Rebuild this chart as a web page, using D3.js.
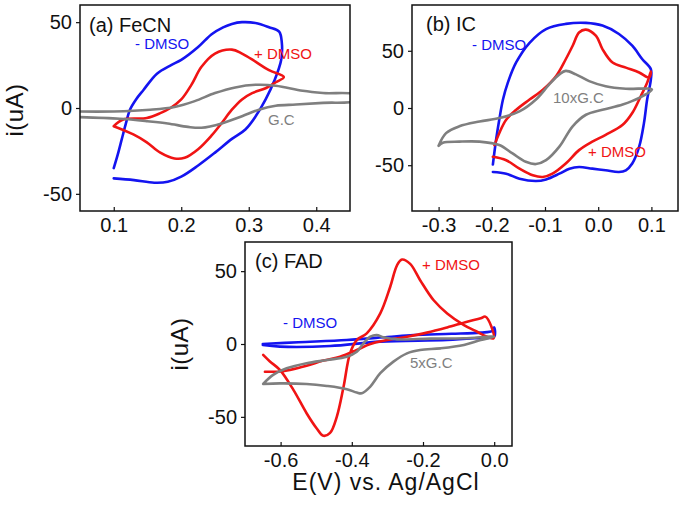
<!DOCTYPE html>
<html>
<head>
<meta charset="utf-8">
<script src="https://cdn.jsdelivr.net/npm/d3@7"></script>
<style>
  html, body { margin: 0; padding: 0; background: #fff; }
  svg { display: block; font-family: "Liberation Sans", Arial, sans-serif; }
  .tick text { font-size: 20px; fill: #111; }
  .tick line { stroke: #111; stroke-width: 1.2; }
  .frame { fill: none; stroke: #111; stroke-width: 1.5; }
  .cv { fill: none; stroke-width: 2.6; stroke-linejoin: round; stroke-linecap: round; }
</style>
</head>
<body>
<svg id="chart" width="685" height="512"></svg>
<script>
/* CV curves: [E (V), i (uA)] */

// (a) FeCN
const fecnMinusDmso = [[0.1,-35],[0.106,-27],[0.112,-18],[0.118,-9],[0.124,-1],[0.133,5],[0.144,10.5],[0.164,20],[0.185,25],[0.2,28],[0.225,35.5],[0.245,43],[0.262,47],[0.275,49],[0.29,50],[0.31,49.5],[0.33,47],[0.345,44.5],[0.349,38],[0.348,28],[0.338,16],[0.325,5],[0.31,-5],[0.295,-12.5],[0.275,-18],[0.25,-26],[0.225,-33.5],[0.2,-40],[0.18,-43],[0.16,-43.5],[0.13,-42],[0.1,-41]];
const fecnPlusDmso = [[0.1,-10.6],[0.114,-6.7],[0.149,-5.8],[0.169,-3],[0.184,0],[0.2,5],[0.215,13.5],[0.23,24],[0.25,31.7],[0.275,34],[0.29,31.7],[0.31,27],[0.33,22],[0.352,18],[0.34,15],[0.325,11.5],[0.305,8.7],[0.29,5],[0.275,-1],[0.26,-8.7],[0.245,-16],[0.225,-24],[0.205,-29],[0.19,-29.4],[0.169,-26],[0.149,-20],[0.129,-15.4],[0.1,-10.6]];
const fecnGC = [[0.04,-2],[0.1,-2],[0.154,-1],[0.19,0.6],[0.22,4],[0.25,8.7],[0.28,12],[0.31,13.5],[0.34,13],[0.38,10],[0.41,8.7],[0.46,7.6],[0.46,4.4],[0.41,3],[0.37,2],[0.34,1.3],[0.315,-1],[0.29,-4.8],[0.26,-9],[0.23,-11.5],[0.21,-11],[0.18,-9],[0.15,-7.7],[0.109,-6.3],[0.04,-5.2]];

// (b) IC
const icMinusDmso = [[-0.198,-49.4],[-0.192,-28],[-0.186,-10.3],[-0.179,7.4],[-0.17,22],[-0.154,40],[-0.129,57],[-0.098,69],[-0.061,73.5],[-0.023,74.4],[0.008,72],[0.039,64.7],[0.064,54.4],[0.083,42.6],[0.099,33.8],[0.099,25],[0.092,7.4],[0.086,-13.2],[0.077,-33.8],[0.064,-48.5],[0.052,-54.4],[0.039,-55.9],[0.014,-54.4],[-0.011,-53],[-0.036,-51.5],[-0.054,-53],[-0.073,-57.4],[-0.098,-62.4],[-0.117,-63.8],[-0.148,-61.8],[-0.173,-57.4],[-0.198,-55.9]];
const icPlusDmso = [[-0.198,-42.6],[-0.173,-45.6],[-0.148,-53],[-0.123,-58.8],[-0.104,-60.3],[-0.086,-57.4],[-0.061,-48.5],[-0.036,-36.8],[-0.011,-29.4],[0.014,-23.5],[0.046,-14.7],[0.064,-4.4],[0.08,10.3],[0.092,22],[0.099,32],[0.096,26.5],[0.077,31],[0.052,35.3],[0.027,39.7],[0.008,51.5],[-0.004,63],[-0.023,68.5],[-0.036,66],[-0.048,54.4],[-0.061,42.6],[-0.079,28],[-0.104,16],[-0.129,7.4],[-0.154,-1.5],[-0.173,-10.3],[-0.186,-22],[-0.195,-32.4]];
const icGC10x = [[-0.3,-33],[-0.286,-22],[-0.261,-16],[-0.223,-11.8],[-0.186,-8.8],[-0.148,-3],[-0.117,7.4],[-0.092,20.6],[-0.073,29.4],[-0.061,32.4],[-0.042,29.4],[-0.017,23.5],[0.014,19],[0.052,16.8],[0.101,16.2],[0.077,8.8],[0.046,3],[0.008,-1.5],[-0.023,-5.9],[-0.048,-16],[-0.073,-33.8],[-0.098,-45.6],[-0.117,-49],[-0.136,-47],[-0.161,-39.7],[-0.186,-32.4],[-0.223,-29.4],[-0.261,-29.4],[-0.292,-30.3],[-0.3,-33]];

// (c) FAD
const fadMinusDmso = [[-0.65,0],[-0.55,1.2],[-0.414,2.7],[-0.3,4.8],[-0.226,6.2],[-0.12,7],[-0.038,7.8],[-0.005,9],[0,11.4],[0,5],[-0.04,4.2],[-0.132,2.7],[-0.32,1.6],[-0.461,-1.4],[-0.602,-1.8],[-0.65,-0.7]];
const fadPlusDmso = [[-0.649,-7.5],[-0.63,-12],[-0.602,-17.8],[-0.564,-31.5],[-0.527,-47.5],[-0.499,-57.8],[-0.48,-63],[-0.461,-61],[-0.442,-49.8],[-0.423,-29.2],[-0.405,-6.4],[-0.386,2.7],[-0.358,7.3],[-0.32,21],[-0.292,39.3],[-0.273,54],[-0.259,58],[-0.236,55],[-0.208,43.8],[-0.17,30],[-0.132,21],[-0.085,13],[-0.048,8.4],[-0.02,5],[-0.002,3.9],[-0.008,12],[-0.025,18.8],[-0.038,17.6],[-0.076,15.3],[-0.132,11.4],[-0.189,7.8],[-0.245,5],[-0.301,2.7],[-0.348,0],[-0.386,-4.1],[-0.433,-8.7],[-0.48,-11.4],[-0.527,-15],[-0.574,-17.8],[-0.611,-19],[-0.644,-19]];
const fadGC5x = [[-0.649,-27.4],[-0.621,-21.2],[-0.583,-16.7],[-0.527,-13.2],[-0.47,-11],[-0.414,-8.7],[-0.386,-5.3],[-0.367,0.5],[-0.348,5],[-0.33,6.2],[-0.311,4.6],[-0.273,3.2],[-0.179,3.7],[-0.085,3.9],[0,5],[-0.038,2.7],[-0.085,-0.7],[-0.151,-3],[-0.208,-4.1],[-0.245,-6.4],[-0.283,-12.1],[-0.32,-20],[-0.348,-29.2],[-0.372,-33.8],[-0.386,-33.3],[-0.414,-31],[-0.47,-28.8],[-0.527,-27.4],[-0.602,-27],[-0.649,-27.4]];

const fecnXTicks = [0.1, 0.2, 0.3, 0.4];
const icXTicks = [-0.3, -0.2, -0.1, 0.0, 0.1];
const fadXTicks = [-0.6, -0.4, -0.2, 0.0];
const yTicks = [-50, 0, 50];

const BLUE = "#1414f0", RED = "#f01414", GRAY = "#7f7f7f";

const svg = d3.select("#chart");

const panels = [
  { id: "a", box: [80, 5, 350, 211], xDom: [0.05, 0.45], yDom: [-60, 60], xTicks: fecnXTicks,
    curves: [[fecnMinusDmso, BLUE], [fecnPlusDmso, RED], [fecnGC, GRAY]],
    labels: [
      { t: "(a) FeCN", x: 89, y: 32, c: "#111", s: 20 },
      { t: "- DMSO", x: 135, y: 49, c: BLUE, s: 15 },
      { t: "+ DMSO", x: 254, y: 59, c: RED, s: 15 },
      { t: "G.C", x: 268, y: 125, c: GRAY, s: 15 }
    ] },
  { id: "b", box: [412, 5, 678, 211], xDom: [-0.35, 0.15], yDom: [-90, 90], xTicks: icXTicks,
    curves: [[icMinusDmso, BLUE], [icPlusDmso, RED], [icGC10x, GRAY]],
    labels: [
      { t: "(b) IC", x: 426, y: 31, c: "#111", s: 20 },
      { t: "- DMSO", x: 472, y: 50, c: BLUE, s: 15 },
      { t: "10xG.C", x: 553, y: 103, c: GRAY, s: 15 },
      { t: "+ DMSO", x: 588, y: 157, c: RED, s: 15 }
    ] },
  { id: "c", box: [245, 242, 512, 446], xDom: [-0.7, 0.05], yDom: [-70, 70], xTicks: fadXTicks,
    curves: [[fadMinusDmso, BLUE], [fadPlusDmso, RED], [fadGC5x, GRAY]],
    labels: [
      { t: "(c) FAD", x: 255, y: 268, c: "#111", s: 20 },
      { t: "+ DMSO", x: 422, y: 270, c: RED, s: 15 },
      { t: "- DMSO", x: 283, y: 328, c: BLUE, s: 15 },
      { t: "5xG.C", x: 410, y: 368, c: GRAY, s: 15 }
    ] }
];

// plain hyphen for negatives, like the original
const fmtX = d => d.toFixed(1);
const fmtY = d => String(d);

panels.forEach(p => {
  const [x0, y0, x1, y1] = p.box;
  const x = d3.scaleLinear().domain(p.xDom).range([x0, x1]);
  const y = d3.scaleLinear().domain(p.yDom).range([y1, y0]);
  const g = svg.append("g");

  g.append("clipPath").attr("id", "clip-" + p.id)
    .append("rect").attr("x", x0).attr("y", y0).attr("width", x1 - x0).attr("height", y1 - y0);

  const line = d3.line()
    .x(d => x(d[0])).y(d => y(d[1]))
    .curve(d3.curveCatmullRom.alpha(0.5));

  const plot = g.append("g").attr("clip-path", `url(#clip-${p.id})`);
  p.curves.forEach(([pts, col]) => {
    plot.append("path").attr("class", "cv").attr("d", line(pts)).attr("stroke", col);
  });

  // y axis: ticks outside
  g.append("g").attr("transform", `translate(${x0},0)`)
    .call(d3.axisLeft(y).tickValues(yTicks).tickFormat(fmtY).tickSize(4).tickSizeOuter(0).tickPadding(4))
    .call(a => a.select(".domain").remove())
    .attr("font-family", null).attr("font-size", null);

  // x axis: ticks inside
  g.append("g").attr("transform", `translate(0,${y1})`)
    .call(d3.axisBottom(x).tickValues(p.xTicks).tickFormat(fmtX).tickSize(-4).tickSizeOuter(0).tickPadding(7))
    .call(a => a.select(".domain").remove())
    .attr("font-family", null).attr("font-size", null);

  g.append("rect").attr("class", "frame")
    .attr("x", x0).attr("y", y0).attr("width", x1 - x0).attr("height", y1 - y0);

  p.labels.forEach(l => {
    g.append("text").attr("x", l.x).attr("y", l.y)
      .attr("fill", l.c).attr("font-size", l.s).text(l.t);
  });
});

// axis titles
svg.append("text")
  .attr("transform", "translate(23,110) rotate(-90)")
  .attr("text-anchor", "middle").attr("font-size", 24).attr("letter-spacing", 0.5).attr("fill", "#111")
  .text("i(uA)");
svg.append("text")
  .attr("transform", "translate(188,344) rotate(-90)")
  .attr("text-anchor", "middle").attr("font-size", 24).attr("letter-spacing", 0.5).attr("fill", "#111")
  .text("i(uA)");
svg.append("text")
  .attr("x", 386).attr("y", 490)
  .attr("text-anchor", "middle").attr("font-size", 23).attr("letter-spacing", 1).attr("fill", "#111")
  .text("E(V) vs. Ag/AgCl");
</script>
</body>
</html>
